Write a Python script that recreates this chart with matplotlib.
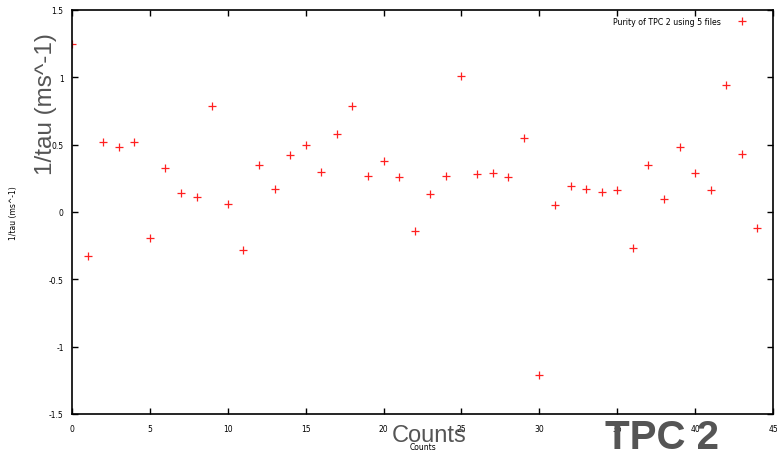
import matplotlib
matplotlib.use('Agg')
from matplotlib import pyplot as plt

# counts and purity values
counts = list(range(45))
inv_tau = [1.25, -0.33, 0.52, 0.48, 0.52, -0.19, 0.33, 0.14, 0.11, 0.79,
           0.06, -0.28, 0.35, 0.17, 0.42, 0.50, 0.30, 0.58, 0.79, 0.27,
           0.38, 0.26, -0.14, 0.13, 0.27, 1.01, 0.28, 0.29, 0.26, 0.55,
           -1.21, 0.05, 0.19, 0.17, 0.15, 0.16, -0.27, 0.35, 0.10, 0.48,
           0.29, 0.16, 0.94, 0.43, -0.12]
x_ticks = [0, 5, 10, 15, 20, 25, 30, 35, 40, 45]
y_ticks = [-1.5, -1, -0.5, 0, 0.5, 1, 1.5]
y_tick_labels = ['-1.5', '-1', '-0.5', '0', '0.5', '1', '1.5']

fig = plt.figure(figsize=(7.77, 4.52), dpi=100)
ax = fig.add_axes([0.0927, 0.0819, 0.9022, 0.8938])

ax.plot(counts, inv_tau, linestyle='none', marker='+', color='#ff2020',
        markersize=6, markeredgewidth=0.9, label='Purity of TPC 2 using 5 files')

ax.set_xlim(0, 45)
ax.set_ylim(-1.5, 1.5)
ax.set_xticks(x_ticks)
ax.set_xticklabels([str(t) for t in x_ticks])
ax.set_yticks(y_ticks)
ax.set_yticklabels(y_tick_labels)
ax.tick_params(axis='both', which='major', direction='in', length=4, width=1,
               labelsize=5.5, top=True, right=True, colors='black')
ax.tick_params(axis='x', pad=7)
ax.tick_params(axis='y', pad=6)
for s in ax.spines.values():
    s.set_linewidth(1.2)

ax.set_xlabel('Counts', fontsize=5.5, labelpad=7)
ax.set_ylabel('1/tau (ms^-1)', fontsize=5.5, labelpad=22)

ax.legend(loc='upper right', markerfirst=False, frameon=False, fontsize=5.7,
          handlelength=1.5, handletextpad=2.0, borderaxespad=0.5,
          bbox_to_anchor=(0.975, 1.0))

# large grey overlay labels
fig.text(0.059, 0.77, '1/tau (ms^-1)', rotation=90, fontsize=17.5, color='#555555',
         family='Liberation Sans', ha='center', va='center')
fig.text(0.552, 0.035, 'Counts', fontsize=17, color='#555555',
         family='Liberation Sans', ha='center', va='center')
fig.text(0.852, 0.03, 'TPC 2', fontsize=29, color='#555555', fontweight='bold',
         family='Liberation Sans', ha='center', va='center')

fig.savefig('out.png', dpi=100)
